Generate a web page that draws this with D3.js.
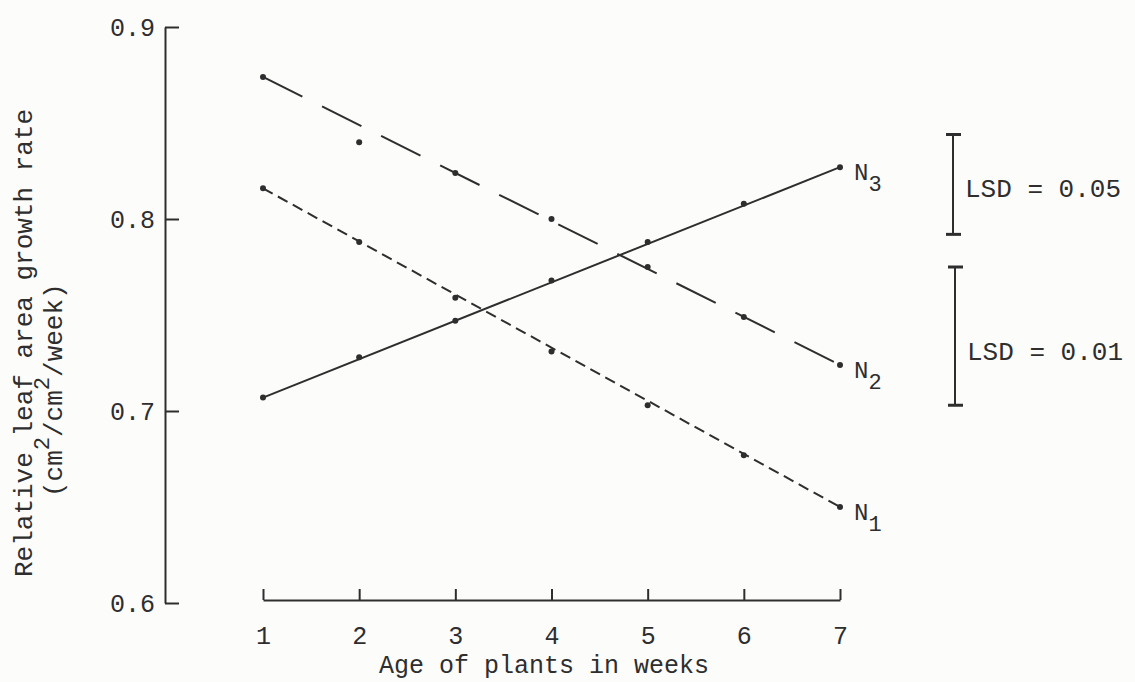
<!DOCTYPE html>
<html>
<head>
<meta charset="utf-8">
<script src="https://cdn.jsdelivr.net/npm/d3@7"></script>
<style>
  html, body { margin: 0; padding: 0; background: #fcfcfb; }
  svg text { font-family: "Liberation Mono", "DejaVu Sans Mono", monospace; fill: #2e2e2e; }
</style>
</head>
<body>
<div id="chart"></div>
<script>
// data
var weeks = [1, 2, 3, 4, 5, 6, 7];
var n1Values = [0.816, 0.788, 0.759, 0.731, 0.703, 0.677, 0.650];
var n2Values = [0.874, 0.840, 0.824, 0.800, 0.775, 0.749, 0.724];
var n3Values = [0.707, 0.728, 0.747, 0.768, 0.788, 0.808, 0.827];
var yTicks = [0.6, 0.7, 0.8, 0.9];
var lsdLabels = ["LSD = 0.05", "LSD = 0.01"];
var lsdLengths = [0.052, 0.072];

var width = 1135, height = 682;
var ink = "#2e2e2e";

var svg = d3.select("#chart")
  .append("svg")
  .attr("width", width)
  .attr("height", height);

var x = d3.scaleLinear().domain([1, 7]).range([263, 840]);
var y = d3.scaleLinear().domain([0.6, 0.9]).range([603, 27]);

// y axis, ticks pointing inward
svg.append("g")
  .attr("transform", "translate(165,0)")
  .call(d3.axisLeft(y)
    .tickValues(yTicks)
    .tickFormat(d3.format(".1f"))
    .tickSize(-14)
    .tickSizeOuter(0)
    .tickPadding(10));

// x axis is a separate line from week 1 to week 7
svg.append("g")
  .attr("transform", "translate(0,600)")
  .call(d3.axisBottom(x)
    .tickValues(weeks)
    .tickFormat(d3.format("d"))
    .tickSize(-11)
    .tickSizeOuter(0)
    .tickPadding(26));

svg.selectAll(".domain, .tick line")
  .attr("stroke", ink)
  .attr("stroke-width", 2);
svg.selectAll(".tick text")
  .attr("font-size", 25)
  .style("font-family", "'Liberation Mono', monospace")
  .attr("fill", ink);

// axis titles
svg.append("text")
  .attr("x", 544)
  .attr("y", 673)
  .attr("text-anchor", "middle")
  .attr("font-size", 25)
  .text("Age of plants in weeks");

var yTitle = svg.append("g")
  .attr("transform", "translate(32,577) rotate(-90)");
yTitle.append("text")
  .attr("x", 0).attr("y", 0)
  .attr("font-size", 26)
  .text("Relative leaf area growth rate");
var unit = yTitle.append("text")
  .attr("x", 80).attr("y", 30)
  .attr("font-size", 26);
unit.append("tspan").text("(cm");
unit.append("tspan").attr("dy", -13).attr("font-size", 22).text("2");
unit.append("tspan").attr("dy", 13).text("/cm");
unit.append("tspan").attr("dy", -13).attr("font-size", 22).text("2");
unit.append("tspan").attr("dy", 13).text("/week)");

// series
var series = [
  { name: "1", values: n1Values, dash: "11,6" },
  { name: "2", values: n2Values, dash: "44,22" },
  { name: "3", values: n3Values, dash: null }
];

var line = d3.line()
  .x(function(d) { return x(d[0]); })
  .y(function(d) { return y(d[1]); });

series.forEach(function(s) {
  var last = s.values.length - 1;
  // fitted straight line from the first to the last week
  svg.append("path")
    .attr("d", line([[weeks[0], s.values[0]], [weeks[last], s.values[last]]]))
    .attr("fill", "none")
    .attr("stroke", ink)
    .attr("stroke-width", 2)
    .attr("stroke-dasharray", s.dash);

  svg.selectAll(".pt" + s.name)
    .data(s.values)
    .enter().append("circle")
    .attr("cx", function(d, i) { return x(weeks[i]); })
    .attr("cy", function(d) { return y(d); })
    .attr("r", 3)
    .attr("fill", ink);

  var lab = svg.append("text")
    .attr("x", x(weeks[last]) + 14)
    .attr("y", y(s.values[last]) + 13)
    .attr("font-size", 24);
  lab.append("tspan").text("N");
  lab.append("tspan").attr("dy", 11).attr("font-size", 22).text(s.name);
});

// LSD bars
var lsdTops = [0.844, 0.775];
var lsdX = [953, 955];
var lsdTextDy = [62, 93];
lsdLabels.forEach(function(t, i) {
  var y0 = y(lsdTops[i]), y1 = y(lsdTops[i] - lsdLengths[i]);
  var g = svg.append("g");
  g.append("line")
    .attr("x1", lsdX[i]).attr("x2", lsdX[i])
    .attr("y1", y0).attr("y2", y1)
    .attr("stroke", ink).attr("stroke-width", 2);
  [y0, y1].forEach(function(yy) {
    g.append("line")
      .attr("x1", lsdX[i] - 7).attr("x2", lsdX[i] + 8)
      .attr("y1", yy).attr("y2", yy)
      .attr("stroke", ink).attr("stroke-width", 3);
  });
  g.append("text")
    .attr("x", lsdX[i] + 12)
    .attr("y", y0 + lsdTextDy[i])
    .attr("font-size", 26)
    .text(t);
});
</script>
</body>
</html>
